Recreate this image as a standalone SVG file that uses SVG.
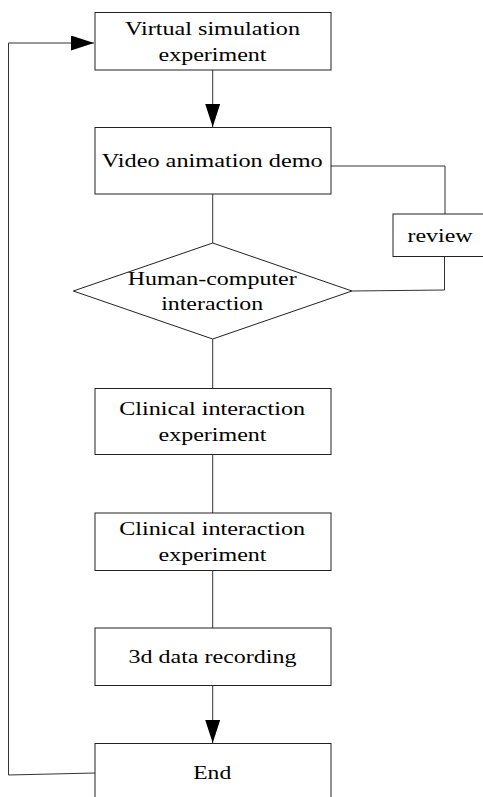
<svg xmlns="http://www.w3.org/2000/svg" width="483" height="797" viewBox="0 0 483 797">
<style>
.box{fill:#fff;stroke:#222;stroke-width:1}
.ln{fill:none;stroke:#333;stroke-width:1}
text{font-family:"Liberation Serif","Times New Roman",serif;font-size:18px;fill:#000;text-anchor:middle}
</style>
<defs>
<marker id="ah" markerWidth="23" markerHeight="15" refX="23" refY="7.5" orient="auto" markerUnits="userSpaceOnUse" viewBox="0 0 23 15">
<path d="M0,0 L23,7.5 L0,15 Z" fill="#000"/>
</marker>
</defs>
<rect width="483" height="797" fill="#fff"/>
<g id="connectors">
<path class="ln" d="M212.7,70 V127" marker-end="url(#ah)"/>
<path class="ln" d="M95,773 L8.5,775 V43 H94" marker-end="url(#ah)"/>
<path class="ln" d="M331,166 H445 V214"/>
<path class="ln" d="M444.5,257 V290 L352,291"/>
<path class="ln" d="M212.7,194 V243"/>
<path class="ln" d="M212.7,339 V388"/>
<path class="ln" d="M212.7,455 V513"/>
<path class="ln" d="M212.7,570 V628"/>
<path class="ln" d="M212.7,686 V743" marker-end="url(#ah)"/>
</g>
<g id="n1"><rect class="box" x="95" y="12.5" width="236" height="57.5"/><text x="212.5" y="35" textLength="175" lengthAdjust="spacingAndGlyphs">Virtual simulation</text><text x="212.5" y="61" textLength="108" lengthAdjust="spacingAndGlyphs">experiment</text></g>
<g id="n2"><rect class="box" x="95" y="127.5" width="236" height="66.5"/><text x="212.2" y="167" textLength="221" lengthAdjust="spacingAndGlyphs">Video animation demo</text></g>
<g id="n3"><rect class="box" x="393" y="214" width="92" height="42.5"/><text x="440" y="242" textLength="65" lengthAdjust="spacingAndGlyphs">review</text></g>
<g id="n4"><polygon class="box" points="212.7,243 352,291 212.7,339 73.3,291"/><text x="212.2" y="285" textLength="169" lengthAdjust="spacingAndGlyphs">Human-computer</text><text x="212.2" y="310" textLength="102" lengthAdjust="spacingAndGlyphs">interaction</text></g>
<g id="n5"><rect class="box" x="95" y="388.5" width="236" height="66"/><text x="212.2" y="415" textLength="186" lengthAdjust="spacingAndGlyphs">Clinical interaction</text><text x="212.5" y="441" textLength="108" lengthAdjust="spacingAndGlyphs">experiment</text></g>
<g id="n6"><rect class="box" x="95" y="513" width="236" height="57.5"/><text x="212.2" y="535" textLength="186" lengthAdjust="spacingAndGlyphs">Clinical interaction</text><text x="212.5" y="561" textLength="108" lengthAdjust="spacingAndGlyphs">experiment</text></g>
<g id="n7"><rect class="box" x="95" y="628" width="236" height="57.5"/><text x="212.5" y="663" textLength="168" lengthAdjust="spacingAndGlyphs">3d data recording</text></g>
<g id="n8"><rect class="box" x="95" y="743.5" width="236" height="70"/><text x="212.2" y="779" textLength="38" lengthAdjust="spacingAndGlyphs">End</text></g>
</svg>
